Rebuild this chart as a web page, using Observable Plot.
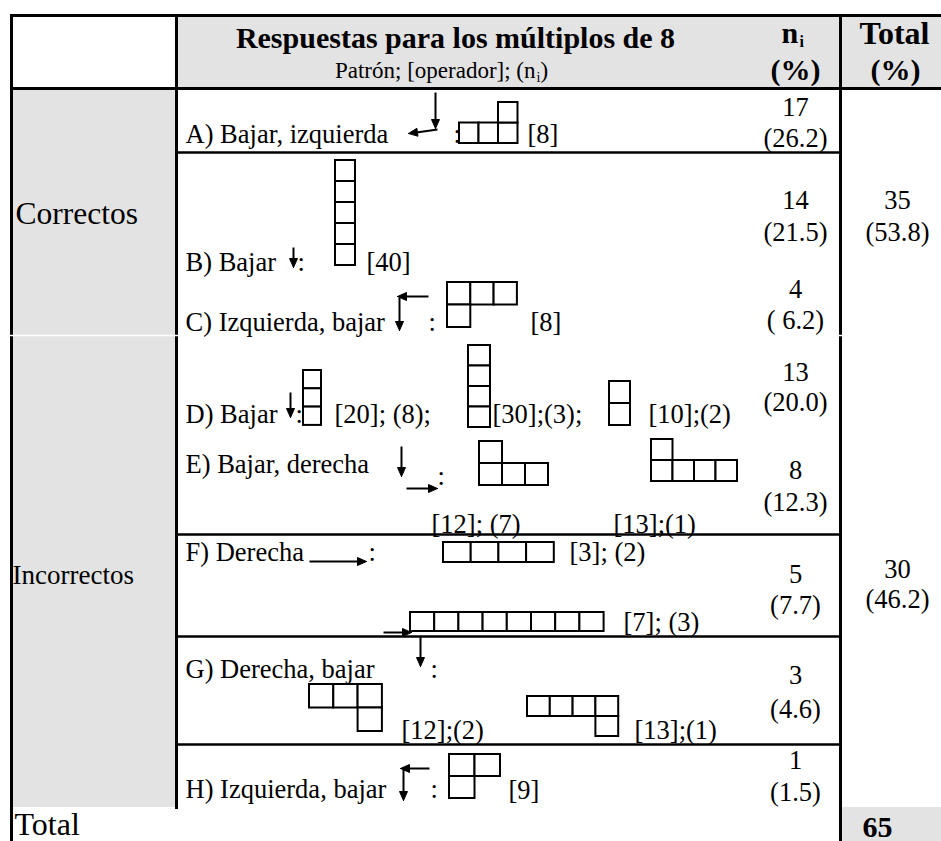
<!DOCTYPE html>
<html>
<head>
<meta charset="utf-8">
<script src="https://cdn.jsdelivr.net/npm/d3@7"></script>
<script src="https://cdn.jsdelivr.net/npm/@observablehq/plot@0.6"></script>
<style>
  html, body { margin: 0; padding: 0; background: #fff; overflow: hidden; }
  #chart svg { display: block; }
</style>
</head>
<body>
<div id="chart"></div>
<script>
// ---------------- DATA ----------------
const headerTitle = "Respuestas para los múltiplos de 8";
const headerSubtitle = "Patrón; [operador]; (n";
const headerCount = "n";
const headerPct = "(%)";
const headerTotal = "Total";
const groups = ["Correctos", "Incorrectos"];
const groupTotals = ["35", "30"];
const groupPercents = ["(53.8)", "(46.2)"];
const responseLabels = ["A) Bajar, izquierda", "B) Bajar", "C) Izquierda, bajar", "D) Bajar",
  "E) Bajar, derecha", "F) Derecha", "G) Derecha, bajar", "H) Izquierda, bajar"];
const responseCounts = ["17", "14", "4", "13", "8", "5", "3", "1"];
const responsePercents = ["(26.2)", "(21.5)", "( 6.2)", "(20.0)", "(12.3)", "(7.7)", "(4.6)", "(1.5)"];
const totalLabel = "Total";
const grandTotal = "65";
// patterns drawn for each response: cells as [column, row]
const patternIds = ["A", "B", "C", "D1", "D2", "D3", "E1", "E2", "F1", "F2", "G1", "G2", "H"];
const patternCells = [
  [[0,1],[1,1],[2,1],[2,0]],
  [[0,0],[0,1],[0,2],[0,3],[0,4]],
  [[0,0],[1,0],[2,0],[0,1]],
  [[0,0],[0,1],[0,2]],
  [[0,0],[0,1],[0,2],[0,3]],
  [[0,0],[0,1]],
  [[0,0],[0,1],[1,1],[2,1]],
  [[0,0],[0,1],[1,1],[2,1],[3,1]],
  [[0,0],[1,0],[2,0],[3,0]],
  [[0,0],[1,0],[2,0],[3,0],[4,0],[5,0],[6,0],[7,0]],
  [[0,0],[1,0],[2,0],[2,1]],
  [[0,0],[1,0],[2,0],[3,0],[3,1]],
  [[0,0],[1,0],[0,1]]
];
const patternLabels = ["[8]", "[40]", "[8]", "[20]; (8);", "[30];(3);", "[10];(2)",
  "[12]; (7)", "[13];(1)", "[3]; (2)", "[7]; (3)", "[12];(2)", "[13];(1)", "[9]"];

// ---------------- LAYOUT ----------------
const W = 941, H = 841;
const GREY = "#e3e3e3";
const FONT = "'Liberation Serif','Times New Roman',Times,serif";
const BODY = 26.5;
const rowLabelY = [142, 270, 330, 422, 472, 560, 677, 797];
const countY = [115, 208, 297, 380, 478, 582, 683, 768];
const pctY = [146, 240, 328, 410, 510, 613, 717, 800];
const groupLabelLayout = [{x: 15, y: 223, size: 31.5}, {x: 12, y: 583, size: 27}];
const groupTotalY = [[208, 240], [577, 607]];
// pattern boxes: x0, y0, cell width, cell height, label x, label y
const patternLayout = [
  [459, 102, 19.5, 20.5, 527, 142],
  [335, 160, 20, 21, 366, 270],
  [447, 282, 23.3, 22.5, 530, 330],
  [303, 370, 18, 18.3, 334, 422],
  [468, 345, 22, 20.5, 492, 422],
  [609, 381, 21, 22, 648, 422],
  [479, 441, 23, 22, 431, 532],
  [651, 439, 21.5, 21, 613, 532],
  [443, 542, 27.7, 20, 569, 560],
  [410, 612, 24.2, 19, 623, 630],
  [309, 684, 24.3, 23.5, 401, 738],
  [527, 696, 22.8, 20, 634, 738],
  [449, 754, 25.5, 22, 508, 798]
];
// colon positions following the operator arrows
const colonLayout = [[453,142],[297,270],[428,330],[295,422],[437,484],[368,560],[430,677],[430,797]];
// operator arrows: [x1,y1,x2,y2], head at (x2,y2)
const arrowLayout = [
  [435,92,435,128],[437,129,408,133],
  [293,247,293,267],
  [428,296,397,296],[399,297,399,330],
  [290,392,290,417],
  [401,446,401,476],[406,488,437,488],
  [309,561,366,561],
  [383,632,411,632],
  [420,636,420,666],
  [429,768,400,768],[403,768,403,800]
];
const frameLines = [
  [11,15,941,15,3],[11,15,11,841,3],[176,15,176,807,3],[840,15,840,841,3],[11,88,941,88,3],
  [176,152,840,152,2.5],[176,534,840,534,2.5],[176,636,840,636,2.5],[176,744,840,744,2.5]
];
const whiteLines = [[9,335,178,335],[838,335,842,335]];
const greyBlocks = [[176,15,941,88],[11,88,176,807],[840,807,941,841]];

// ---------------- BUILD MARK DATA ----------------
const texts = [];
function addText(x, y, text, size, anchor = "start", weight = "normal") {
  texts.push({x, y, text, size, anchor, weight});
}
addText(455, 47, headerTitle, 30, "middle", "bold");
addText(535, 77, headerSubtitle, 23, "end");
addText(536, 81, "i", 14, "start");
addText(540, 77, ")", 23, "start");
addText(781, 42, headerCount, 30, "start", "bold");
addText(799, 46, "i", 16, "start", "bold");
addText(795, 79, headerPct, 30, "middle", "bold");
addText(894, 43, headerTotal, 32, "middle", "bold");
addText(895, 79, headerPct, 30, "middle", "bold");
groups.forEach((g, i) => {
  const L = groupLabelLayout[i];
  addText(L.x, L.y, g, L.size);
  addText(897, groupTotalY[i][0], groupTotals[i], BODY, "middle");
  addText(897, groupTotalY[i][1], groupPercents[i], BODY, "middle");
});
responseLabels.forEach((lab, i) => {
  addText(185, rowLabelY[i], lab, BODY);
  addText(795, countY[i], responseCounts[i], BODY, "middle");
  addText(795, pctY[i], responsePercents[i], BODY, "middle");
  addText(colonLayout[i][0], colonLayout[i][1], ":", BODY);
});
patternIds.forEach((id, i) => {
  const [, , , , lx, ly] = patternLayout[i];
  addText(lx, ly, patternLabels[i], BODY);
});
addText(14, 834, totalLabel, 32);
addText(877, 836, grandTotal, 30, "middle", "bold");

const squares = [];
patternIds.forEach((id, i) => {
  const [x0, y0, w, h] = patternLayout[i];
  patternCells[i].forEach(([c, r]) => {
    squares.push({id, x1: x0 + c * w, x2: x0 + (c + 1) * w, y1: y0 + r * h, y2: y0 + (r + 1) * h});
  });
});

const HEAD = 9, HALF = 4;
const shafts = [], heads = [];
arrowLayout.forEach(([x1, y1, x2, y2], k) => {
  const dx = x2 - x1, dy = y2 - y1, len = Math.hypot(dx, dy);
  const ux = dx / len, uy = dy / len;
  const bx = x2 - ux * HEAD, by = y2 - uy * HEAD;
  shafts.push({x1, y1, x2: bx + ux, y2: by + uy});
  heads.push({k, x: x2, y: y2});
  heads.push({k, x: bx - uy * HALF, y: by + ux * HALF});
  heads.push({k, x: bx + uy * HALF, y: by - ux * HALF});
  heads.push({k, x: x2, y: y2});
});

const toRect = ([x1, y1, x2, y2]) => ({x1, y1, x2, y2});
const toLine = ([x1, y1, x2, y2, w]) => ({x1, y1, x2, y2, w});

const textMarks = d3.groups(texts, d => `${d.anchor}|${d.weight}|${d.size}`).map(([key, arr]) => {
  const [anchor, weight, size] = key.split("|");
  return Plot.text(arr, {x: "x", y: "y", text: "text", textAnchor: anchor, fontWeight: weight,
    fontSize: +size, lineAnchor: "bottom", fill: "black"});
});

const plot = Plot.plot({
  width: W, height: H, margin: 0,
  x: {domain: [0, W], range: [0, W], axis: null},
  y: {domain: [0, H], range: [0, H], axis: null},
  style: {fontFamily: FONT, background: "white", color: "black"},
  marks: [
    Plot.rect(greyBlocks.map(toRect), {x1: "x1", x2: "x2", y1: "y1", y2: "y2", fill: GREY}),
    Plot.rect(squares, {x1: "x1", x2: "x2", y1: "y1", y2: "y2", fill: "white", stroke: "black", strokeWidth: 2}),
    Plot.link(shafts, {x1: "x1", y1: "y1", x2: "x2", y2: "y2", stroke: "black", strokeWidth: 2}),
    Plot.line(heads, {x: "x", y: "y", z: "k", fill: "black", stroke: "black", strokeWidth: 1, curve: "linear"}),
    ...textMarks,
    Plot.link(frameLines.map(toLine), {x1: "x1", y1: "y1", x2: "x2", y2: "y2", stroke: "black", strokeWidth: "w", strokeLinecap: "square"}),
    Plot.link(whiteLines.map(toRect), {x1: "x1", y1: "y1", x2: "x2", y2: "y2", stroke: "white", strokeWidth: 1.5})
  ]
});
document.getElementById("chart").appendChild(plot);
</script>
</body>
</html>
